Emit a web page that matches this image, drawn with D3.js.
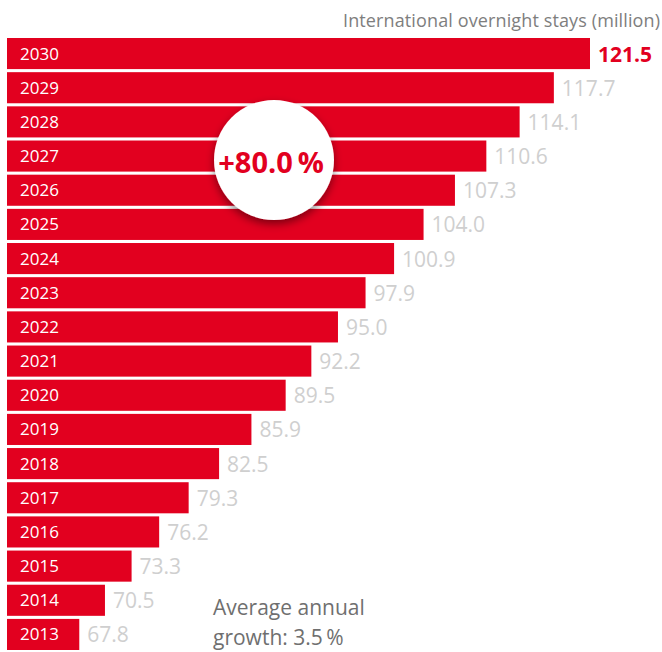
<!DOCTYPE html>
<html>
<head>
<meta charset="utf-8">
<script src="https://cdn.jsdelivr.net/npm/d3@7"></script>
<style>
  body { margin: 0; background: #fff; }
  svg text { font-family: 'Open Sans', 'Noto Sans', sans-serif; }
</style>
</head>
<body>
<div id="chart"></div>
<script>
// data
const years = [2030, 2029, 2028, 2027, 2026, 2025, 2024, 2023, 2022, 2021, 2020, 2019, 2018, 2017, 2016, 2015, 2014, 2013];
const stays = [121.5, 117.7, 114.1, 110.6, 107.3, 104.0, 100.9, 97.9, 95.0, 92.2, 89.5, 85.9, 82.5, 79.3, 76.2, 73.3, 70.5, 67.8];
const title = 'International overnight stays (million)';
const growthTotal = '+80.0\u2009%';
const growthNote = ['Average annual', 'growth: 3.5\u2009%'];

const width = 662;
const height = 652;
const red = '#e2001f';

const svg = d3.select('#chart')
  .append('svg')
  .attr('width', width)
  .attr('height', height);

const rows = years.map((y, i) => ({ year: y, value: stays[i] }));

const x = d3.scaleLinear()
  .domain([60.2, 121.5])
  .range([7, 590]);

const y = d3.scaleBand()
  .domain(years)
  .range([38, 38 + 34 * years.length])
  .paddingInner(0.09)
  .paddingOuter(0);

// title
svg.append('text')
  .attr('x', 660)
  .attr('y', 27)
  .attr('text-anchor', 'end')
  .attr('fill', '#7e7e7e')
  .attr('font-size', '18px')
  .attr('textLength', 317)
  .text(title);

// bars
svg.selectAll('rect.bar')
  .data(rows)
  .enter()
  .append('rect')
  .attr('class', 'bar')
  .attr('x', x(60.2))
  .attr('y', d => y(d.year))
  .attr('width', d => x(d.value) - x(60.2))
  .attr('height', y.bandwidth())
  .attr('fill', red);

// year labels inside bars
svg.selectAll('text.year')
  .data(rows)
  .enter()
  .append('text')
  .attr('class', 'year')
  .attr('x', 20)
  .attr('y', d => y(d.year) + y.bandwidth() / 2 + 6)
  .attr('fill', '#fff')
  .attr('font-size', '17px')
  .text(d => d.year);

// value labels
svg.selectAll('text.value')
  .data(rows)
  .enter()
  .append('text')
  .attr('class', 'value')
  .attr('x', d => x(d.value) + 8)
  .attr('y', d => y(d.year) + y.bandwidth() / 2 + 8)
  .attr('fill', (d, i) => i === 0 ? red : '#cfcfcf')
  .attr('font-weight', (d, i) => i === 0 ? 'bold' : 'normal')
  .attr('font-size', '21px')
  .text(d => d.value.toFixed(1));

// growth bubble
const defs = svg.append('defs');
const shadow = defs.append('filter')
  .attr('id', 'shadow')
  .attr('x', '-30%').attr('y', '-30%')
  .attr('width', '160%').attr('height', '160%');
shadow.append('feDropShadow')
  .attr('dx', 0).attr('dy', 4)
  .attr('stdDeviation', 4)
  .attr('flood-color', '#000')
  .attr('flood-opacity', 0.45);

svg.append('circle')
  .attr('cx', 274)
  .attr('cy', 160)
  .attr('r', 60)
  .attr('fill', '#fff')
  .attr('filter', 'url(#shadow)');

svg.append('text')
  .attr('x', 271)
  .attr('y', 173)
  .attr('text-anchor', 'middle')
  .attr('fill', red)
  .attr('font-weight', 'bold')
  .attr('font-size', '29px')
  .text(growthTotal);

// note
svg.append('text')
  .attr('x', 213)
  .attr('y', 615)
  .attr('fill', '#6f6f6f')
  .attr('font-size', '21px')
  .selectAll('tspan')
  .data(growthNote)
  .enter()
  .append('tspan')
  .attr('x', 213)
  .attr('dy', (d, i) => i === 0 ? 0 : 30)
  .text(d => d);
</script>
</body>
</html>
